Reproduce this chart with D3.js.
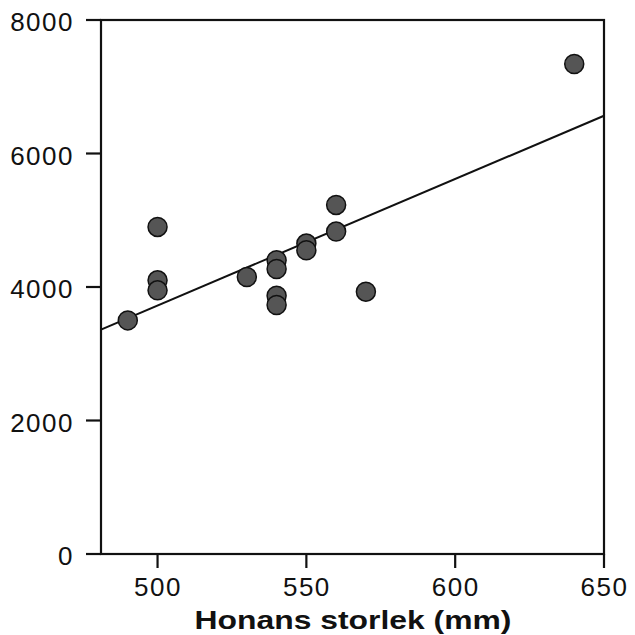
<!DOCTYPE html>
<html>
<head>
<meta charset="utf-8">
<script src="https://cdn.jsdelivr.net/npm/d3@7"></script>
<style>
  body { margin: 0; background: #fff; }
  text { font-family: "Liberation Sans", Arial, sans-serif; fill: #111; }
</style>
</head>
<body>
<script>
// honans storlek (mm) vs antal (y)
var sizes  = [490, 500, 500, 500, 530, 540, 540, 540, 540, 550, 550, 560, 560, 570, 640];
var counts = [3500, 4900, 4100, 3950, 4150, 4400, 4270, 3870, 3730, 4650, 4550, 4830, 5230, 3930, 7340];

var xTicks = [500, 550, 600, 650];
var yTicks = [0, 2000, 4000, 6000, 8000];
var xTitle = "Honans storlek (mm)";

var width = 635, height = 635;
var margin = { top: 20, right: 31, bottom: 81, left: 101 };

var points = sizes.map(function (d, i) { return { x: d, y: counts[i] }; });

var svg = d3.select("body").append("svg")
  .attr("width", width)
  .attr("height", height);

var x = d3.scaleLinear().domain([481, 650]).range([margin.left, width - margin.right]);
var y = d3.scaleLinear().domain([0, 8000]).range([height - margin.bottom, margin.top]);

// least squares line from the points
var mx = d3.mean(points, function (d) { return d.x; });
var my = d3.mean(points, function (d) { return d.y; });
var sxy = d3.sum(points, function (d) { return (d.x - mx) * (d.y - my); });
var sxx = d3.sum(points, function (d) { return (d.x - mx) * (d.x - mx); });
var slope = sxy / sxx;
var icpt = my - slope * mx;
var fit = x.domain().map(function (v) { return { x: v, y: icpt + slope * v }; });

var x0 = x.range()[0], x1 = x.range()[1];
var y0 = y.range()[0], y1 = y.range()[1];

// axes (labels only from d3.axis, tick marks drawn below)
var xAxis = svg.append("g")
  .attr("transform", "translate(0," + y0 + ")")
  .call(d3.axisBottom(x).tickValues(xTicks).tickFormat(d3.format("d"))
    .tickSize(14).tickPadding(10).tickSizeOuter(0));

var yAxis = svg.append("g")
  .attr("transform", "translate(" + x0 + ",0)")
  .call(d3.axisLeft(y).tickValues(yTicks).tickFormat(d3.format("d"))
    .tickSize(15).tickPadding(12).tickSizeOuter(0));

[xAxis, yAxis].forEach(function (g) {
  g.select(".domain").remove();
  g.selectAll(".tick line").remove();
  g.selectAll(".tick text")
    .attr("fill", "#111")
    .style("font-size", "26px")
    .style("letter-spacing", "1.5px")
    .attr("font-family", null);
});
yAxis.selectAll(".tick text").attr("dy", "0.42em");

var ink = svg.append("g")
  .attr("stroke", "#111")
  .attr("fill", "none");

ink.selectAll(".xt")
  .data(xTicks)
  .enter()
  .append("line")
  .attr("class", "xt")
  .attr("x1", function (d) { return x(d); })
  .attr("x2", function (d) { return x(d); })
  .attr("y1", y0)
  .attr("y2", y0 + 14)
  .attr("stroke-width", 2.2);

ink.selectAll(".yt")
  .data(yTicks)
  .enter()
  .append("line")
  .attr("class", "yt")
  .attr("x1", x0 - 15)
  .attr("x2", x0)
  .attr("y1", function (d) { return y(d); })
  .attr("y2", function (d) { return y(d); })
  .attr("stroke-width", 2.2);

// frame
svg.append("rect")
  .attr("x", x0)
  .attr("y", y1)
  .attr("width", x1 - x0)
  .attr("height", y0 - y1)
  .attr("fill", "none")
  .attr("stroke", "#111")
  .attr("stroke-width", 2.2);

svg.append("line")
  .attr("x1", x(fit[0].x)).attr("y1", y(fit[0].y))
  .attr("x2", x(fit[1].x)).attr("y2", y(fit[1].y))
  .attr("stroke", "#111")
  .attr("stroke-width", 2);

svg.selectAll("circle")
  .data(points)
  .enter()
  .append("circle")
  .attr("cx", function (d) { return x(d.x); })
  .attr("cy", function (d) { return y(d.y); })
  .attr("r", 9.5)
  .attr("fill", "#555")
  .attr("stroke", "#111")
  .attr("stroke-width", 1.5);

svg.append("text")
  .attr("x", 353)
  .attr("y", 629)
  .attr("text-anchor", "middle")
  .attr("textLength", 317)
  .attr("lengthAdjust", "spacingAndGlyphs")
  .style("font-size", "25px")
  .style("font-weight", "bold")
  .text(xTitle);
</script>
</body>
</html>
